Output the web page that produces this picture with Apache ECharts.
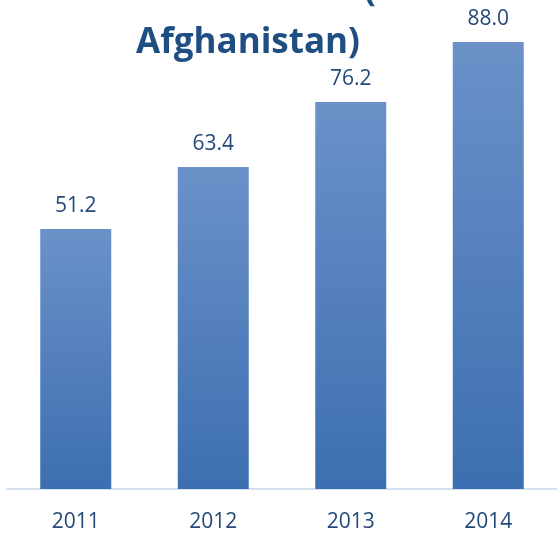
<!DOCTYPE html>
<html>
<head>
<meta charset="utf-8">
<script src="https://cdn.jsdelivr.net/npm/echarts@6/dist/echarts.min.js"></script>
<style>
html,body{margin:0;padding:0;background:#fff;}
#chart{width:557px;height:533px;}
</style>
</head>
<body>
<div id="chart"></div>
<script>
var years = ['2011', '2012', '2013', '2014'];
var values = [51.2, 63.4, 76.2, 88.0];

var textColor = '#24497a';
var titleColor = '#1f4e83';
var myChart = echarts.init(document.getElementById('chart'));
var option = {
    animation: false,
    title: [{
        text: 'Afghanistan)',
        left: 243,
        top: 21,
        textAlign: 'center',
        textStyle: {
            color: titleColor,
            fontSize: 35,
            fontWeight: 'bold',
            fontFamily: 'Open Sans'
        }
    }, {
        text: '(',
        left: 359,
        top: -31,
        textStyle: {
            color: titleColor,
            fontSize: 35,
            fontWeight: 'bold',
            fontFamily: 'Open Sans'
        }
    }],
    grid: {
        left: 7,
        width: 558,
        top: 42,
        bottom: 43
    },
    xAxis: {
        type: 'category',
        data: years,
        axisLine: {lineStyle: {color: '#d6e1ef', width: 2}},
        axisTick: {show: false},
        axisLabel: {
            color: textColor,
            fontSize: 21,
            fontFamily: 'Open Sans',
            margin: 23
        }
    },
    yAxis: {
        type: 'value',
        min: 0,
        max: 88,
        show: false,
        splitLine: {show: false}
    },
    series: [{
        type: 'bar',
        data: values,
        barWidth: 71,
        itemStyle: {
            color: new echarts.graphic.LinearGradient(0, 0, 0, 1, [
                {offset: 0, color: '#6b91c8'},
                {offset: 1, color: '#3c6fb1'}
            ])
        },
        label: {
            show: true,
            position: 'top',
            distance: 12,
            color: textColor,
            fontSize: 21,
            fontFamily: 'Open Sans',
            formatter: function (p) {
                return p.value.toFixed(1);
            }
        }
    }]
};
myChart.setOption(option);
</script>
</body>
</html>
